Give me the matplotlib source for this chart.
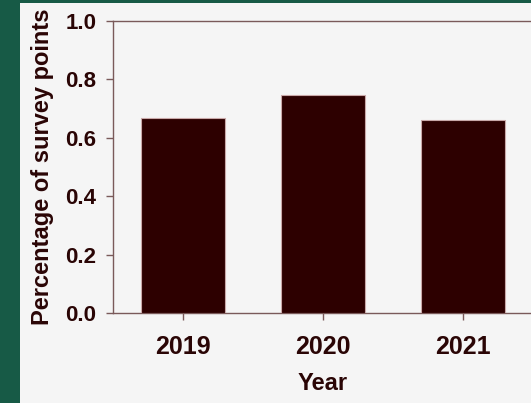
import matplotlib
matplotlib.use("Agg")
import matplotlib.pyplot as plt
from matplotlib.patches import Rectangle

years = ["2019", "2020", "2021"]
values = [0.667, 0.746, 0.66]
yticks = [0.0, 0.2, 0.4, 0.6, 0.8, 1.0]

W, H = 531, 403
fig = plt.figure(figsize=(W / 100, H / 100), dpi=100)
fig.patch.set_facecolor("#175a46")
fig.patches.append(Rectangle((20 / W, 0), 1, 1 - 3 / H, transform=fig.transFigure,
                             facecolor="#f5f5f5", edgecolor="none", zorder=-10))

plt.rcParams['font.family'] = ['Liberation Sans', 'DejaVu Sans']
txt = "#2a0505"
spine = "#7a5a5a"

ax = fig.add_axes([113 / W, (H - 313) / H, 420 / W, 292 / H])
ax.set_zorder(5)
ax.set_facecolor("#f5f5f5")
x = range(len(years))
ax.bar(x, values, width=0.6, color="#2d0000", edgecolor="#c9a8a8", linewidth=0.8, zorder=3)
ax.set_xlim(-0.5, 2.5)
ax.set_ylim(0, 1.0)
ax.set_xticks(list(x))
ax.set_xticklabels(years)
ax.set_yticks(yticks)
ax.set_yticklabels([f"{v:.1f}" for v in yticks])
for s in ["left", "bottom", "top"]:
    ax.spines[s].set_color(spine)
    ax.spines[s].set_linewidth(1.0)
ax.spines["right"].set_visible(False)
ax.tick_params(axis="both", colors=spine, labelcolor=txt, length=5, width=1)
ax.tick_params(axis="y", pad=7, labelsize=16)
ax.tick_params(axis="x", pad=11, labelsize=18)
for lab in ax.get_xticklabels() + ax.get_yticklabels():
    lab.set_fontweight("bold")
ax.set_xlabel("Year", fontsize=17, fontweight="bold", color=txt, labelpad=9)
ax.set_ylabel("Percentage of survey points", fontsize=17, fontweight="bold", color=txt, labelpad=8)

fig.savefig("out.png", dpi=100, facecolor=fig.get_facecolor())
